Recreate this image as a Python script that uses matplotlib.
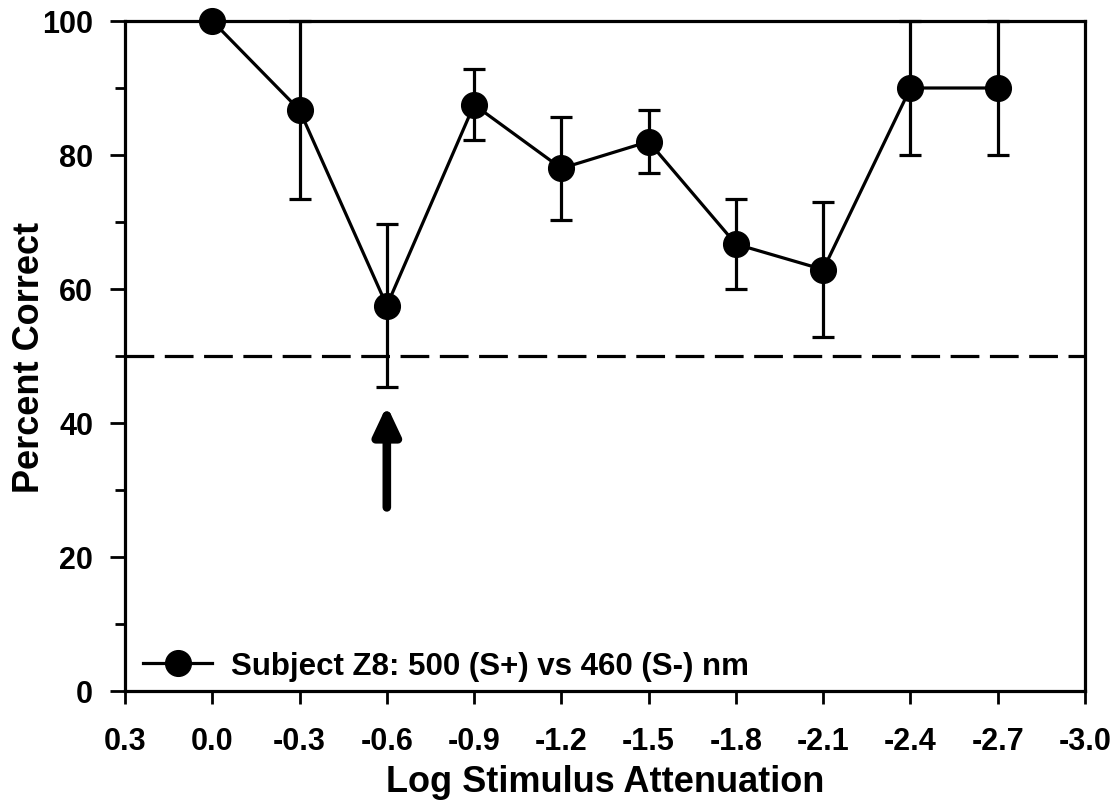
import matplotlib
matplotlib.use("Agg")
import matplotlib.pyplot as plt
from matplotlib.ticker import MultipleLocator, FixedLocator
from matplotlib.lines import Line2D

plt.rcParams['font.family'] = ['Liberation Sans', 'DejaVu Sans']
plt.rcParams['font.weight'] = 'bold'

# Data
attenuation = [0.0, -0.3, -0.6, -0.9, -1.2, -1.5, -1.8, -2.1, -2.4, -2.7]
percent_correct = [100, 86.7, 57.5, 87.5, 78.0, 82.0, 66.7, 62.9, 90, 90]
errors = [0, 13.3, 12.2, 5.3, 7.7, 4.7, 6.7, 10.1, 10, 10]
xticks = [0.3, 0.0, -0.3, -0.6, -0.9, -1.2, -1.5, -1.8, -2.1, -2.4, -2.7, -3.0]
xticklabels = ["0.3", "0.0", "-0.3", "-0.6", "-0.9", "-1.2", "-1.5", "-1.8", "-2.1", "-2.4", "-2.7", "-3.0"]
chance_level = 50
arrow_x = -0.6
arrow_tail = 27.4
arrow_tip = 42.6
legend_label = "Subject Z8: 500 (S+) vs 460 (S-) nm"

fig = plt.figure(figsize=(11.2, 8.04), dpi=100)
ax = fig.add_axes([125/1120, 1 - 692/804, (1085-125)/1120, (692-22)/804])

lw = 2.3
ax.axhline(chance_level, color='black', lw=lw, ls=(0, (9, 3.3)), zorder=1)

ax.errorbar(attenuation, percent_correct, yerr=errors, fmt='-o', color='black',
            lw=lw, elinewidth=lw, capsize=8, capthick=lw, markersize=18.5,
            clip_on=False, zorder=3)

ax.annotate('', xy=(arrow_x, arrow_tip), xytext=(arrow_x, arrow_tail),
            arrowprops=dict(arrowstyle='-|>,head_width=0.4,head_length=0.85',
                            lw=6.2, color='black', mutation_scale=20,
                            shrinkA=0, shrinkB=0, capstyle='round',
                            joinstyle='round'))

ax.set_xlim(0.3, -3.0)
ax.set_ylim(0, 100)
ax.xaxis.set_major_locator(FixedLocator(xticks))
ax.set_xticklabels(xticklabels)
ax.yaxis.set_major_locator(MultipleLocator(20))
ax.yaxis.set_minor_locator(MultipleLocator(10))

for s in ax.spines.values():
    s.set_linewidth(2.3)

ax.tick_params(axis='y', which='major', length=11, width=2, labelsize=22, pad=12)
ax.tick_params(axis='y', which='minor', length=7, width=2)
ax.tick_params(axis='x', which='major', length=9, width=2, labelsize=22, pad=16)
for lab in ax.get_xticklabels() + ax.get_yticklabels():
    lab.set_fontweight('bold')

ax.set_xlabel('Log Stimulus Attenuation', fontsize=26, fontweight='bold', labelpad=6)
ax.set_ylabel('Percent Correct', fontsize=26, fontweight='bold', labelpad=-3.5)

handle = Line2D([], [], color='black', lw=lw, marker='o', markersize=18.5)
leg = ax.legend([handle], [legend_label], loc='lower left', frameon=False,
                prop={'weight': 'bold', 'size': 22.5},
                handlelength=2.2, borderaxespad=0.0, handletextpad=0.6,
                bbox_to_anchor=(0.006, -0.003))

fig.savefig('out.png', dpi=100)
